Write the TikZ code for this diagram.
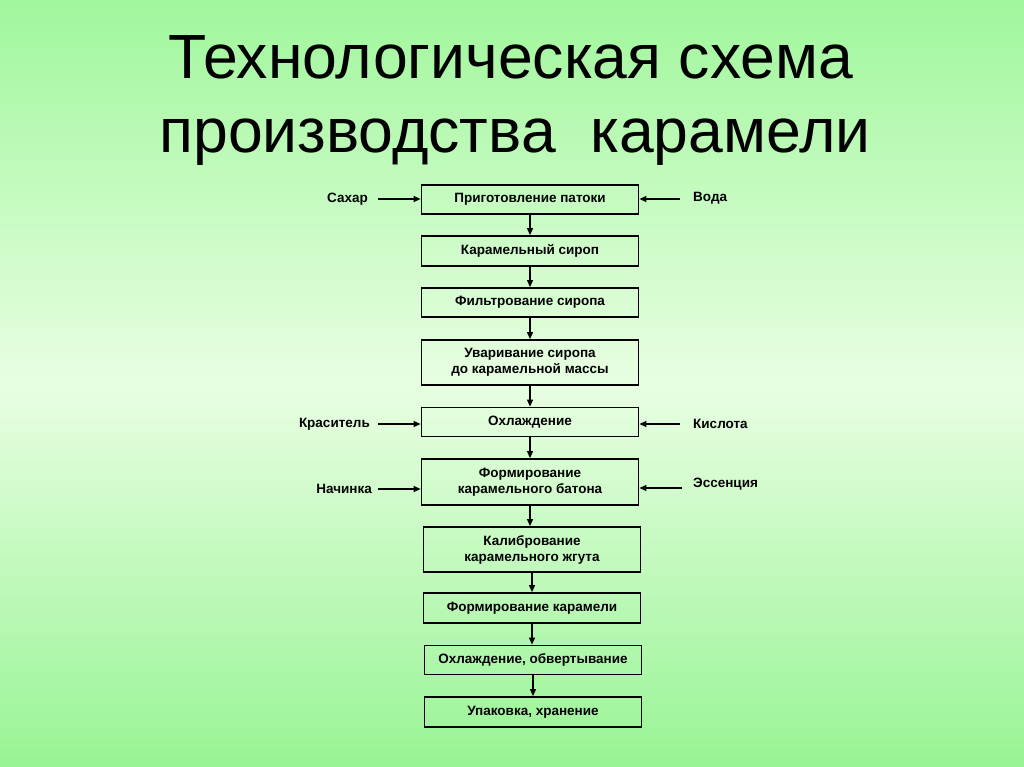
\documentclass[tikz,border=0pt]{standalone}
\usepackage{fontspec}
\setmainfont{Liberation Sans}
\newfontfamily\titlefont{Liberation Sans}
\newfontfamily\boxfont{Liberation Sans}
\usetikzlibrary{arrows.meta}
\definecolor{bgtop}{HTML}{A0F79C}
\definecolor{bgmid}{HTML}{E8FEE2}
\definecolor{bgbot}{HTML}{98F494}
\begin{document}
\begin{tikzpicture}[x=1pt,y=-1pt,
  stage/.style={draw=black,line width=1.8pt,fill=none,minimum width=217pt,inner sep=0pt,
    align=center,font=\boxfont\bfseries\fontsize{13.5}{16}\selectfont},
  side/.style={inner sep=0pt,font=\boxfont\bfseries\fontsize{13.5}{16}\selectfont},
  flow/.style={line width=1.1pt,-{Triangle[length=7pt,width=6pt]}}]
\useasboundingbox (0,0) rectangle (1024,767);
\shade[top color=bgtop,bottom color=bgbot,middle color=bgmid] (0,0) rectangle (1024,767);
\node[font=\titlefont\fontsize{62.5}{70}\selectfont,anchor=base] (t1) at (511,79) {Технологическая схема};
\node[font=\titlefont\fontsize{62.5}{70}\selectfont,anchor=base] (t2) at (515,153) {производства\ \ карамели};
\node[stage,minimum height=29pt] (b1) at (530,199.5) {Приготовление патоки};
\node[stage,minimum height=30pt] (b2) at (530,251) {Карамельный сироп};
\node[stage,minimum height=29pt] (b3) at (530,302.5) {Фильтрование сиропа};
\node[stage,minimum height=45pt] (b4) at (530,362.5) {Уваривание сиропа\\до карамельной массы};
\node[stage,minimum height=29pt] (b5) at (530,422) {Охлаждение};
\node[stage,minimum height=46pt] (b6) at (530,482) {Формирование\\карамельного батона};
\node[stage,minimum height=45pt] (b7) at (532,549.5) {Калибрование\\карамельного жгута};
\node[stage,minimum height=30pt] (b8) at (532,608) {Формирование карамели};
\node[stage,minimum height=29pt] (b9) at (533,660) {Охлаждение, обвертывание};
\node[stage,minimum height=30pt] (b10) at (533,712) {Упаковка, хранение};
\foreach \a/\b in {b1/b2,b2/b3,b3/b4,b4/b5,b5/b6,b6/b7,b7/b8,b8/b9,b9/b10}
  \draw[flow] (\a.south) -- (\a.south |- \b.north);
\node[side,anchor=east] (sugar) at (368,199) {Сахар};
\node[side,anchor=west] (water) at (693,198) {Вода};
\node[side,anchor=east] (dye) at (370,424) {Краситель};
\node[side,anchor=west] (acid) at (693,424) {Кислота};
\node[side,anchor=east] (fill) at (372,489) {Начинка};
\node[side,anchor=west] (ess) at (693,484) {Эссенция};
\coordinate (cs) at (378,199);
\coordinate (cw) at (680,199);
\coordinate (cd) at (378,424);
\coordinate (ca) at (680,424);
\coordinate (cf) at (378,489);
\coordinate (ce) at (682,488);
\draw[flow] (cs) -- (cs -| b1.west);
\draw[flow] (cw) -- (cw -| b1.east);
\draw[flow] (cd) -- (cd -| b5.west);
\draw[flow] (ca) -- (ca -| b5.east);
\draw[flow] (cf) -- (cf -| b6.west);
\draw[flow] (ce) -- (ce -| b6.east);
\end{tikzpicture}
\end{document}
